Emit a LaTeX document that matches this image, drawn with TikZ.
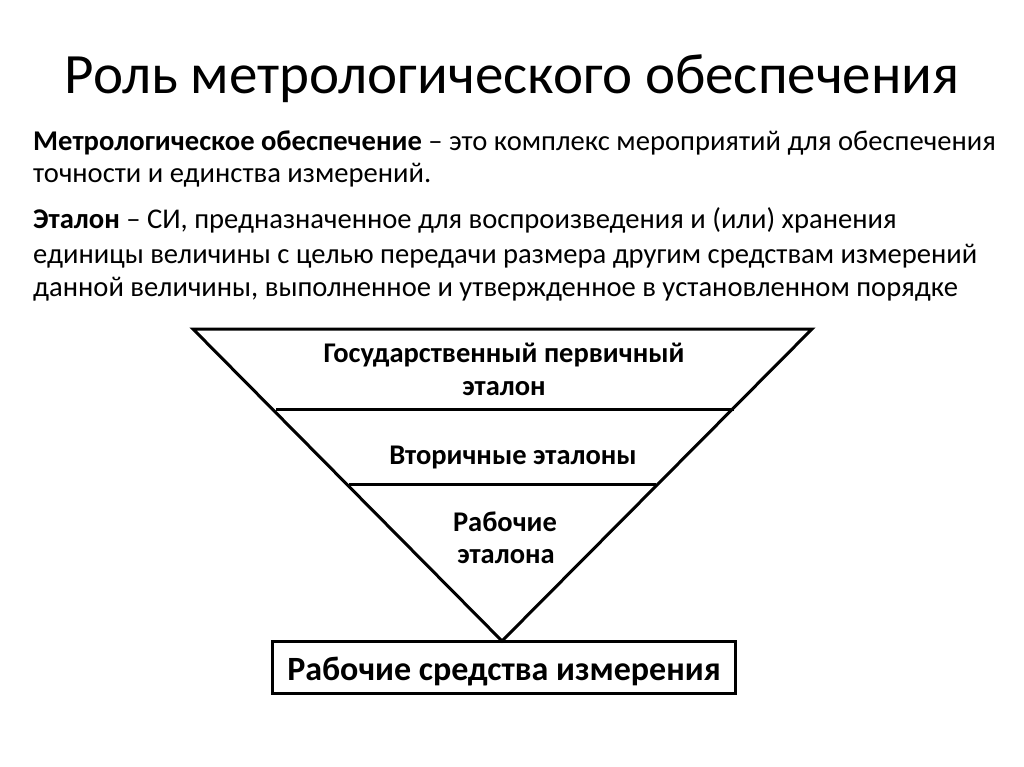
\documentclass[tikz,border=0pt]{standalone}
\usepackage{fontspec}
\setmainfont{Carlito}
\begin{document}
\begin{tikzpicture}[x=1pt,y=-1pt,
  body/.style={inner sep=0pt,anchor=base west,font=\fontsize{28.6}{32}\selectfont},
  tri/.style={inner sep=0pt,anchor=base,font=\bfseries\fontsize{28.5}{32}\selectfont},
  edge/.style={line width=3pt,line join=miter}]
\useasboundingbox (0,0) rectangle (1024,767);
\fill[white] (0,0) rectangle (1024,767);
% title
\node[inner sep=0pt,anchor=base,font=\fontsize{57}{62}\selectfont] (title) at (512,94) {Роль метрологического обеспечения};
% body
\node[body] (l1) at (33,151) {\textbf{Метрологическое обеспечение} – это комплекс мероприятий для обеспечения};
\node[body] (l2) at (33,183) {точности и единства измерений.};
\node[body] (l3) at (33,229) {\textbf{Эталон} – СИ, предназначенное для воспроизведения и (или) хранения};
\node[body] (l4) at (33,263) {единицы величины с целью передачи размера другим средствам измерений};
\node[body] (l5) at (33,296) {данной величины, выполненное и утвержденное в установленном порядке};
% triangle
\coordinate (tl) at (193,329);
\coordinate (tr) at (812,329);
\coordinate (ap) at (502,641);
\coordinate (a1) at (276,409);
\coordinate (b1) at (734,409);
\coordinate (a2) at (349,484);
\coordinate (b2) at (656,484);
\draw[edge] (tl) -- (tr) -- (ap) -- cycle;
\draw[edge] (a1) -- (b1);
\draw[edge] (a2) -- (b2);
\node[tri] (t1) at (504,362) {Государственный первичный};
\node[tri] (t2) at (504,395) {эталон};
\node[tri] (t3) at (513,464) {Вторичные эталоны};
\node[tri] (t4) at (505,531) {Рабочие};
\node[tri] (t5) at (506,563) {эталона};
% box
\draw[edge] (272,641) rectangle (735,693);
\node[inner sep=0pt,anchor=base,font=\bfseries\fontsize{34}{38}\selectfont] (box) at (504,680) {Рабочие средства измерения};
\end{tikzpicture}
\end{document}
